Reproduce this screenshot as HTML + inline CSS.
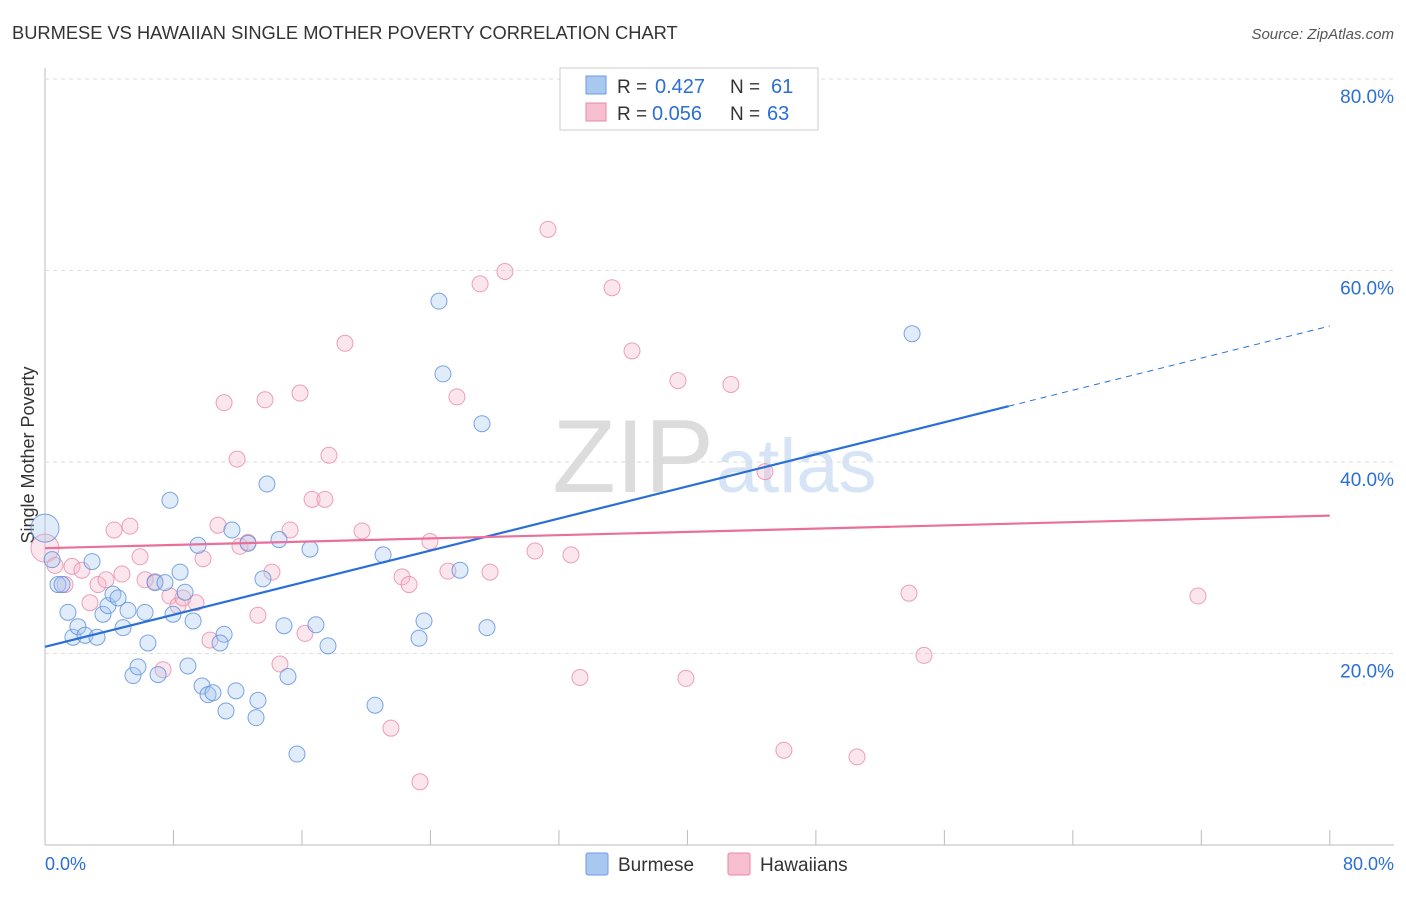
<!DOCTYPE html>
<html><head><meta charset="utf-8"><style>
body{margin:0;background:#fff;font-family:"Liberation Sans",sans-serif;}
svg text{font-family:"Liberation Sans",sans-serif;}
</style></head><body>
<svg id="chart" width="1406" height="892">
<text x="12" y="39" font-size="18.3" fill="#333">BURMESE VS HAWAIIAN SINGLE MOTHER POVERTY CORRELATION CHART</text>
<text x="1394" y="39" font-size="15" fill="#555" font-style="italic" text-anchor="end">Source: ZipAtlas.com</text>
<text x="714" y="492" font-size="104" fill="#dcdcdc" text-anchor="end" font-family="Liberation Serif">ZIP</text>
<text x="716" y="492" font-size="76" fill="#d6e4f5">atlas</text>
<text x="34" y="455" font-size="18" fill="#333" text-anchor="middle" transform="rotate(-90 34 455)">Single Mother Poverty</text>
<g id="grid"></g><g id="ticks"></g><g id="pts"></g><g id="lines"></g>
<g>
<rect x="560" y="68" width="258" height="62" fill="#fff" stroke="#ccc"/>
<rect x="586" y="76" width="20" height="18" fill="#a9c8f0" stroke="#6a9be0"/>
<rect x="586" y="103" width="20" height="18" fill="#f7bfd0" stroke="#e88aa8"/>
<text x="617" y="93" font-size="19" fill="#333">R =</text><text x="655" y="93" font-size="20" fill="#2a6fd6">0.427</text>
<text x="730" y="93" font-size="19" fill="#333">N =</text><text x="771" y="93" font-size="20" fill="#2a6fd6">61</text>
<text x="617" y="120" font-size="19" fill="#333">R =</text><text x="652" y="120" font-size="20" fill="#2a6fd6">0.056</text>
<text x="730" y="120" font-size="19" fill="#333">N =</text><text x="767" y="120" font-size="20" fill="#2a6fd6">63</text>
</g>
<g>
<rect x="586" y="853" width="22" height="22" fill="#a9c8f0" stroke="#6a9be0" rx="2"/>
<text x="618" y="871" font-size="19" fill="#333">Burmese</text>
<rect x="728" y="853" width="22" height="22" fill="#f7bfd0" stroke="#e88aa8" rx="2"/>
<text x="760" y="871" font-size="19" fill="#333">Hawaiians</text>
</g>
<text x="45" y="870" font-size="18" fill="#2a6fd6">0.0%</text>
<text x="1394" y="870" font-size="18" fill="#2a6fd6" text-anchor="end">80.0%</text>
</svg>
<script>
const yTicks=[20,40,60,80];
const xTicks=[0,8,16,24,32,40,48,56,64,72,80];
const blueX=[0,0.44,0.81,1.06,1.43,1.74,2.05,2.49,2.93,3.24,3.61,3.92,4.23,4.55,4.86,5.17,5.48,5.79,6.23,6.41,6.85,7.04,7.47,7.78,7.97,8.41,8.72,8.9,9.22,9.53,9.78,10.15,10.46,11.15,10.9,11.27,11.64,11.89,12.64,13.14,13.26,13.57,13.82,14.57,14.88,15.13,15.69,16.5,16.87,17.62,20.55,21.05,23.29,23.6,24.53,24.78,25.84,27.21,27.52,53.99];
const blueY=[33.1,29.8,27.2,27.2,24.3,21.7,22.8,21.9,29.6,21.7,24.1,25.0,26.2,25.8,22.7,24.5,17.7,18.6,24.3,21.1,27.4,17.8,27.4,36.0,24.1,28.5,26.4,18.7,23.4,31.3,16.6,15.7,15.9,22.0,21.1,14.0,32.9,16.1,31.5,13.3,15.1,27.8,37.7,31.9,22.9,17.6,9.5,30.9,23.0,20.8,14.6,30.3,21.6,23.4,56.8,49.2,28.7,44.0,22.7,53.4];
const pinkX=[0,0.62,1.25,1.68,2.3,2.8,3.3,3.8,4.3,4.79,5.29,5.92,6.23,6.85,7.35,7.78,8.28,8.59,9.4,9.84,10.27,10.77,11.15,11.96,12.14,12.64,13.26,13.7,14.13,14.63,15.26,15.88,16.19,16.63,17.43,17.68,18.68,19.74,21.54,22.23,22.67,23.35,23.97,25.09,25.65,27.09,27.71,28.64,30.51,31.32,32.75,33.31,35.31,36.55,39.41,39.91,42.71,44.83,46.01,50.56,53.8,54.73,71.79];
const pinkY=[31.0,29.2,27.2,29.1,28.7,25.3,27.2,27.7,32.9,28.3,33.3,30.1,27.7,27.5,18.3,26.0,25.0,25.8,25.3,29.9,21.4,33.4,46.2,40.3,31.2,31.6,24.0,46.5,28.5,18.9,32.9,47.2,22.1,36.1,36.1,40.7,52.4,32.8,12.2,28.0,27.2,6.6,31.7,28.6,46.8,58.6,28.5,59.9,30.7,64.3,30.3,17.5,58.2,51.6,48.5,17.4,48.1,39.0,9.9,9.2,26.3,19.8,26.0];
const blueLine=[20.7,54.2];
const pinkLine=[31.0,34.4];
const NS='http://www.w3.org/2000/svg';
const sx=v=>45+v*16.06, sy=v=>845-v*9.575;
function mk(t,a,p){const e=document.createElementNS(NS,t);for(const k in a)e.setAttribute(k,a[k]);p.appendChild(e);return e;}
const g=document.getElementById('grid');
mk('line',{x1:45,y1:68,x2:45,y2:845,stroke:'#bbb'},g);
mk('line',{x1:45,y1:845,x2:1394,y2:845,stroke:'#bbb'},g);
yTicks.forEach(v=>{
 const l=mk('line',{x1:45,y1:sy(v),x2:1394,y2:sy(v),stroke:'#ddd','stroke-dasharray':'4,4'},g);
 
 
 const t=mk('text',{x:1394,y:sy(v)+24,'font-size':19,fill:'#2a6fd6','text-anchor':'end'},g);
 t.textContent=v.toFixed(1)+'%';
 
 
});
const tk=document.getElementById('ticks');
xTicks.forEach(v=>{
 const l=mk('line',{x1:sx(v),y1:830,x2:sx(v),y2:845,stroke:'#bbb'},tk);
 
 
});
const P=document.getElementById('pts');
function pts(X,Y,fill,stroke,name){X.forEach((x,i)=>{
 const r=(x===0)?14:8;
 const c=mk('circle',{cx:sx(x),cy:sy(Y[i]),r:r,fill:fill,'fill-opacity':0.35,stroke:stroke,'stroke-opacity':0.8,'stroke-width':1},P);
 
 
});}
pts(pinkX,pinkY,'#f5b8cb','#e88aa8','hawaiians-point');
pts(blueX,blueY,'#a9c8f0','#5a8ee0','burmese-point');
const L=document.getElementById('lines');
const by=x=>blueLine[0]+(blueLine[1]-blueLine[0])*x/80;
const bl=mk('line',{x1:sx(0),y1:sy(by(0)),x2:sx(60),y2:sy(by(60)),stroke:'#2a6fd6','stroke-width':2.2},L);


const bd=mk('line',{x1:sx(60),y1:sy(by(60)),x2:sx(80),y2:sy(by(80)),stroke:'#2a6fd6','stroke-width':1,'stroke-dasharray':'6,5'},L);


const pl=mk('line',{x1:sx(0),y1:sy(pinkLine[0]),x2:sx(80),y2:sy(pinkLine[1]),stroke:'#e8709a','stroke-width':2.2},L);


</script>
</body></html>
